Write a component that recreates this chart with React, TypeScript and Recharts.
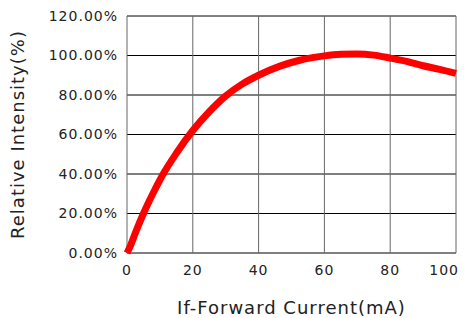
import React from 'react';
import {
  LineChart,
  Line,
  XAxis,
  YAxis,
  CartesianGrid,
  Label,
} from 'recharts';

const currentMa = [0, 1, 2.5, 5, 8, 11, 15, 20, 25, 30, 35, 40, 46.5, 52.5, 60, 65, 70, 75, 80, 85, 90, 95, 100];
const intensityPct = [0, 3.5, 10, 20, 30.5, 40, 50.5, 62, 71.5, 79.5, 85.5, 90, 94.6, 97.6, 99.8, 100.6, 100.8, 100.2, 98.7, 97, 94.8, 93, 91];
const xTicks = [0, 20, 40, 60, 80, 100];
const yTicks = [0, 20, 40, 60, 80, 100, 120];

const data = currentMa.map((x, i) => ({ x, y: intensityPct[i] }));

const FONT = '"DejaVu Sans", sans-serif';

const XTick = (props: any) => {
  const { x, y, payload } = props;
  const last = payload.value === 100;
  return (
    <text
      x={last ? x + 6 : x}
      y={y + 20}
      textAnchor={last ? 'end' : 'middle'}
      fontFamily={FONT}
      fontSize={14}
      letterSpacing={1}
      fill="#222"
    >
      {payload.value}
    </text>
  );
};

export default function App() {
  return (
    <div style={{ position: 'absolute', left: 0, top: 0, background: '#fff' }}>
      <LineChart
        width={465}
        height={318}
        data={data}
        margin={{ top: 16, right: 9, left: 0, bottom: 0 }}
      >
        <CartesianGrid vertical={false} stroke="#000" strokeWidth={1} />
        <CartesianGrid horizontal={false} stroke="#666" strokeWidth={1} />
        <XAxis
          dataKey="x"
          type="number"
          domain={[0, 100]}
          ticks={xTicks}
          axisLine={false}
          tickLine={false}
          tickSize={0}
          height={65}
          tick={<XTick />}
        >
          <Label
            value="If-Forward Current(mA)"
            position="insideBottom"
            offset={4}
            style={{ fontFamily: FONT, fontSize: 18, fill: '#222', letterSpacing: 1 }}
          />
        </XAxis>
        <YAxis
          type="number"
          domain={[0, 120]}
          ticks={yTicks}
          axisLine={false}
          tickLine={false}
          tickSize={0}
          width={127}
          tickMargin={9}
          tickFormatter={(v: number) => `${v.toFixed(2)}%`}
          tick={{ fontFamily: FONT, fontSize: 14, fill: '#222', letterSpacing: 1 }}
        >
          <Label
            value="Relative Intensity(%)"
            angle={-90}
            position="insideLeft"
            offset={18}
            style={{ textAnchor: 'middle', fontFamily: FONT, fontSize: 18, fill: '#222', letterSpacing: 1 }}
          />
        </YAxis>
        <Line
          type="monotone"
          dataKey="y"
          stroke="#ff0000"
          strokeWidth={7}
          dot={false}
          isAnimationActive={false}
        />
      </LineChart>
    </div>
  );
}
